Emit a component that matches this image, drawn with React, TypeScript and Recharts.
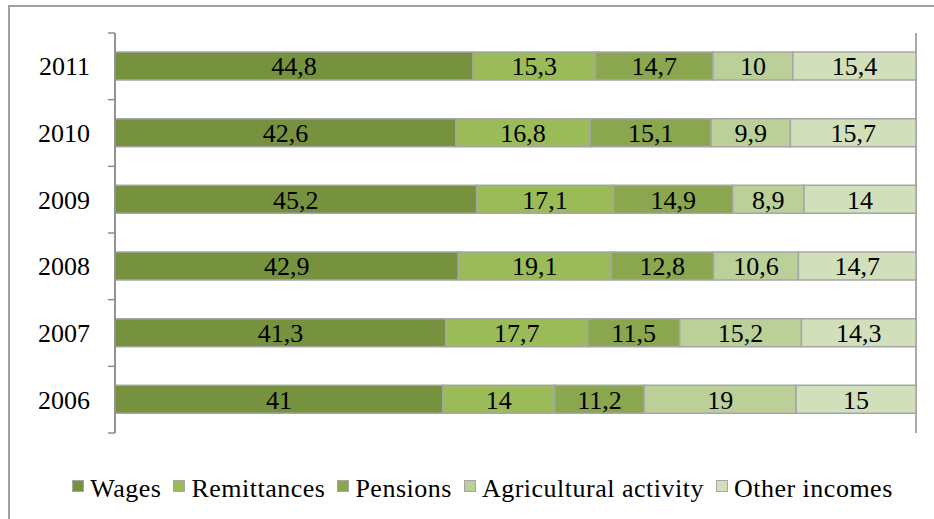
import React from "react";
import { BarChart, Bar, XAxis, YAxis, CartesianGrid, LabelList } from "recharts";

const years = ["2011", "2010", "2009", "2008", "2007", "2006"];
const wages = [44.8, 42.6, 45.2, 42.9, 41.3, 41];
const remittances = [15.3, 16.8, 17.1, 19.1, 17.7, 14];
const pensions = [14.7, 15.1, 14.9, 12.8, 11.5, 11.2];
const agricultural = [10, 9.9, 8.9, 10.6, 15.2, 19];
const otherIncomes = [15.4, 15.7, 14, 14.7, 14.3, 15];
const xTicks = [0, 0.2, 0.4, 0.6, 0.8, 1];

const data = years.map((y, i) => ({
  year: y,
  wages: wages[i],
  remittances: remittances[i],
  pensions: pensions[i],
  agricultural: agricultural[i],
  other: otherIncomes[i],
}));

const series = [
  { key: "wages", name: "Wages", color: "#77923F" },
  { key: "remittances", name: "Remittances", color: "#9BBB59" },
  { key: "pensions", name: "Pensions", color: "#8AA64E" },
  { key: "agricultural", name: "Agricultural activity", color: "#BBD099" },
  { key: "other", name: "Other incomes", color: "#D1DFBA" },
];

const FONT = "Liberation Serif";
const FS = 26;
const fmt = (v: any) => String(v).replace(".", ",");

const YTick = (props: any) => {
  const { x, y, payload, index, visibleTicksCount } = props;
  const off = payload && payload.offset ? payload.offset : 33.3;
  const ax = x;
  return (
    <g>
      <line x1={ax - 7} x2={ax} y1={y - off} y2={y - off} stroke="#8c8c8c" strokeWidth={1.5} />
      {index === visibleTicksCount - 1 ? (
        <line x1={ax - 7} x2={ax} y1={y + off} y2={y + off} stroke="#8c8c8c" strokeWidth={1.5} />
      ) : null}
      <text x={ax - 25} y={y} dy={9} textAnchor="end" fontFamily={FONT} fontSize={FS} fill="#000">
        {payload.value}
      </text>
    </g>
  );
};

const LegendBox = () => (
  <div
    style={{
      position: "absolute",
      left: 0,
      top: 474,
      width: 934,
      display: "flex",
      justifyContent: "center",
      alignItems: "center",
      fontFamily: FONT,
      fontSize: FS,
      lineHeight: "30px",
      color: "#000",
      gap: 12,
      paddingLeft: 31,
      boxSizing: "border-box",
    }}
  >
    {series.map((s) => (
      <div key={s.key} style={{ display: "flex", alignItems: "center" }}>
        <span
          style={{
            display: "inline-block",
            width: 10,
            height: 10,
            background: s.color,
            border: "1.5px solid #a6a6a6",
            marginRight: 6,
            marginTop: -6,
          }}
        />
        <span style={{ letterSpacing: 0.5 }}>{s.name}</span>
      </div>
    ))}
  </div>
);

export default function App() {
  return (
    <div style={{ position: "absolute", left: 0, top: 0, width: 934, height: 519, background: "#fff", overflow: "hidden" }}>
      <div
        style={{
          position: "absolute",
          left: 8,
          top: 5,
          width: 1000,
          height: 1000,
          borderLeft: "2px solid #a0a0a0",
          borderTop: "2px solid #a0a0a0",
          boxSizing: "border-box",
        }}
      />
      <div style={{ position: "absolute", left: 0, top: 0 }}>
        <BarChart
          width={934}
          height={519}
          data={data}
          layout="vertical"
          stackOffset="expand"
          barSize={28}
          margin={{ top: 33, right: 18, left: 0, bottom: 86 }}
        >
          <CartesianGrid horizontal={false} vertical={true} stroke="#8c8c8c" strokeWidth={1.5} />
          <XAxis type="number" domain={[0, 1]} ticks={xTicks} height={0} axisLine={false} tickLine={false} tick={false} />
          <YAxis
            type="category"
            dataKey="year"
            width={115}
            axisLine={{ stroke: "#8c8c8c", strokeWidth: 1.5 }}
            tickLine={false}
            tickSize={0}
            tickMargin={0}
            tick={<YTick />}
            interval={0}
          />
          {series.map((s) => (
            <Bar
              key={s.key}
              dataKey={s.key}
              name={s.name}
              stackId="a"
              fill={s.color}
              stroke="#a6a6a6"
              strokeWidth={1.5}
              isAnimationActive={false}
            >
              <LabelList
                dataKey={s.key}
                position="center"
                formatter={fmt}
                fontFamily={FONT}
                fontSize={FS}
                fill="#000"
              />
            </Bar>
          ))}
        </BarChart>
      </div>
      <LegendBox />
    </div>
  );
}
